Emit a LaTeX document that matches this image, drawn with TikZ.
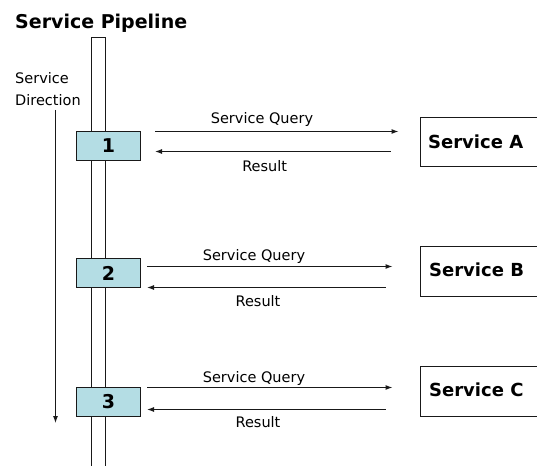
\documentclass[tikz,border=0pt]{standalone}
\usepackage{fontspec}
\setmainfont{DejaVu Sans}
\usetikzlibrary{arrows.meta}
\definecolor{stagefill}{RGB}{180,221,228}
\definecolor{edge}{RGB}{25,25,25}
\tikzset{
  line/.style={draw=edge, line width=1pt},
  flow/.style={line, -{Latex[length=7pt,width=5pt]}},
  stagebox/.style={line, fill=stagefill, minimum width=64pt, minimum height=29pt,
    inner sep=0pt, font=\bfseries\fontsize{19}{19}\selectfont},
  svcbox/.style={line, fill=white, minimum width=125pt, minimum height=48pt,
    inner sep=0pt, anchor=north west},
  svclabel/.style={anchor=base west, inner sep=0pt, font=\bfseries\fontsize{18}{18}\selectfont},
  small/.style={anchor=base, inner sep=0pt, font=\fontsize{14.5}{14.5}\selectfont},
}
\begin{document}
\begin{tikzpicture}[x=1pt, y=-1pt]
\useasboundingbox (0,0) rectangle (537,465);
\fill[white] (0,0) rectangle (537,465);

% title
\node[anchor=base west, inner sep=0pt, font=\bfseries\fontsize{19}{19}\selectfont]
  (title) at (15,29) {Service Pipeline};

% direction of service
\node[anchor=base west, inner sep=0pt, font=\fontsize{14.5}{14.5}\selectfont]
  (dir1) at (15,84) {Service};
\node[anchor=base west, inner sep=0pt, font=\fontsize{14.5}{14.5}\selectfont]
  (dir2) at (15,105.7) {Direction};
\coordinate (dirtop) at (55.5,110);
\coordinate (dirend) at (55.5,423);
\draw[flow] (dirtop) -- (dirend);

% the pipe
\draw[line] (91.5,470) -- (91.5,37.5) -- (105.5,37.5) -- (105.5,470);

% pipeline stages
\node[stagebox] (p1) at (108.5,146) {1};
\node[stagebox] (p2) at (108.5,273) {2};
\node[stagebox] (p3) at (108.5,402) {3};

% services
\node[svcbox] (sA) at (419.5,117.5) {};
\node[svcbox, minimum height=50pt] (sB) at (419.5,245.5) {};
\node[svcbox, minimum height=50pt] (sC) at (419.5,365.5) {};
\node[svclabel] (lA) at (428,148.3) {Service A};
\node[svclabel] (lB) at (429,276.7) {Service B};
\node[svclabel] (lC) at (429,396.7) {Service C};

% queries and results
\draw[flow, shorten <=14pt, shorten >=21pt] (p1.east |- 0,131.5) -- (sA.west |- 0,131.5);
\draw[flow, shorten <=29pt, shorten >=14pt] (sA.west |- 0,151.5) -- (p1.east |- 0,151.5);
\node[small] (q1) at (262,124) {Service Query};
\node[small] (r1) at (264.7,171) {Result};

\draw[flow, shorten <=6pt, shorten >=27pt] (p2.east |- 0,266.5) -- (sB.west |- 0,266.5);
\draw[flow, shorten <=34pt, shorten >=6pt] (sB.west |- 0,287.5) -- (p2.east |- 0,287.5);
\node[small] (q2) at (254,260.7) {Service Query};
\node[small] (r2) at (258,306.7) {Result};

\draw[flow, shorten <=6pt, shorten >=27pt] (p3.east |- 0,387.5) -- (sC.west |- 0,387.5);
\draw[flow, shorten <=34pt, shorten >=6pt] (sC.west |- 0,409.5) -- (p3.east |- 0,409.5);
\node[small] (q3) at (254,382.3) {Service Query};
\node[small] (r3) at (258,427.7) {Result};
\end{tikzpicture}
\end{document}
